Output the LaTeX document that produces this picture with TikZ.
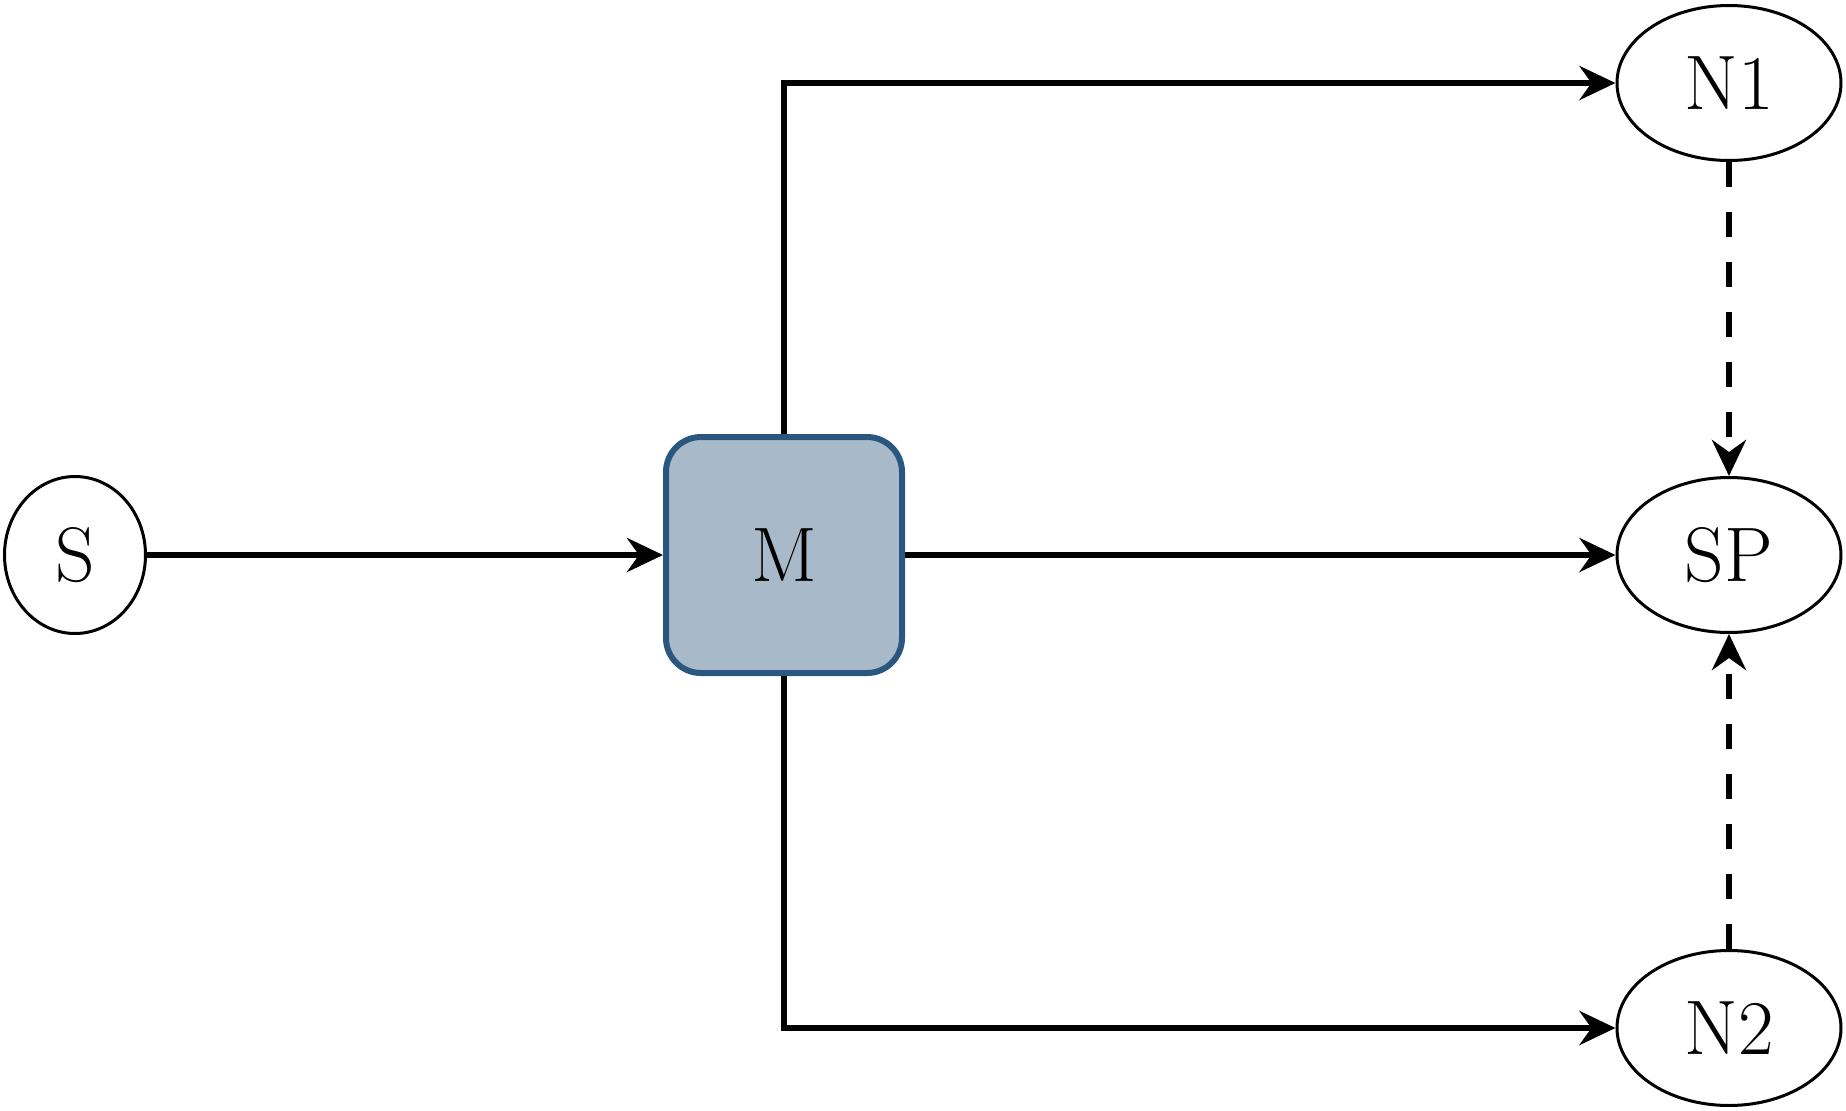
\documentclass[tikz,border=0pt]{standalone}
\usepackage{tikz}
\usetikzlibrary{arrows.meta,positioning,shapes.geometric}

\definecolor{boxfill}{RGB}{168,186,201}
\definecolor{boxline}{RGB}{42,87,128}

\begin{document}
\begin{tikzpicture}[on grid, auto,
    font=\fontsize{22}{26}\selectfont,
    >={Stealth[length=0.36cm,width=0.34cm,inset=0.12cm]},
    term/.style={draw, ellipse, line width=0.03cm, inner sep=0pt},
    block/.style={draw=boxline, fill=boxfill, line width=0.06cm,
        rounded corners=0.35cm, minimum width=2.36cm, minimum height=2.36cm},
    flow/.style={->, line width=0.065cm},
    back/.style={->, line width=0.065cm, dash pattern=on 0.25cm off 0.25cm}]
        \useasboundingbox (0,0) rectangle (18.46,-11.11);
        \node[term, minimum width=1.41cm, minimum height=1.57cm] (s) at (0.75,-5.55) {S};
        \node[block, right=7.09cm of s] (m) {M};
        \node[term, minimum width=2.24cm, minimum height=1.55cm, right=9.45cm of m] (sp) {SP};
        \node[term, minimum width=2.24cm, minimum height=1.55cm, above=4.72cm of sp] (n1) {N1};
        \node[term, minimum width=2.24cm, minimum height=1.55cm, below=4.73cm of sp] (n2) {N2};
        \draw[flow] (s) -- (m);
        \draw[flow] (m) -- (sp);
        \draw[flow] (m) |- (n1);
        \draw[flow] (m) |- (n2);
        \draw[back] (n1) -- (sp);
        \draw[back] (n2) -- (sp);
    \end{tikzpicture}
\end{document}
